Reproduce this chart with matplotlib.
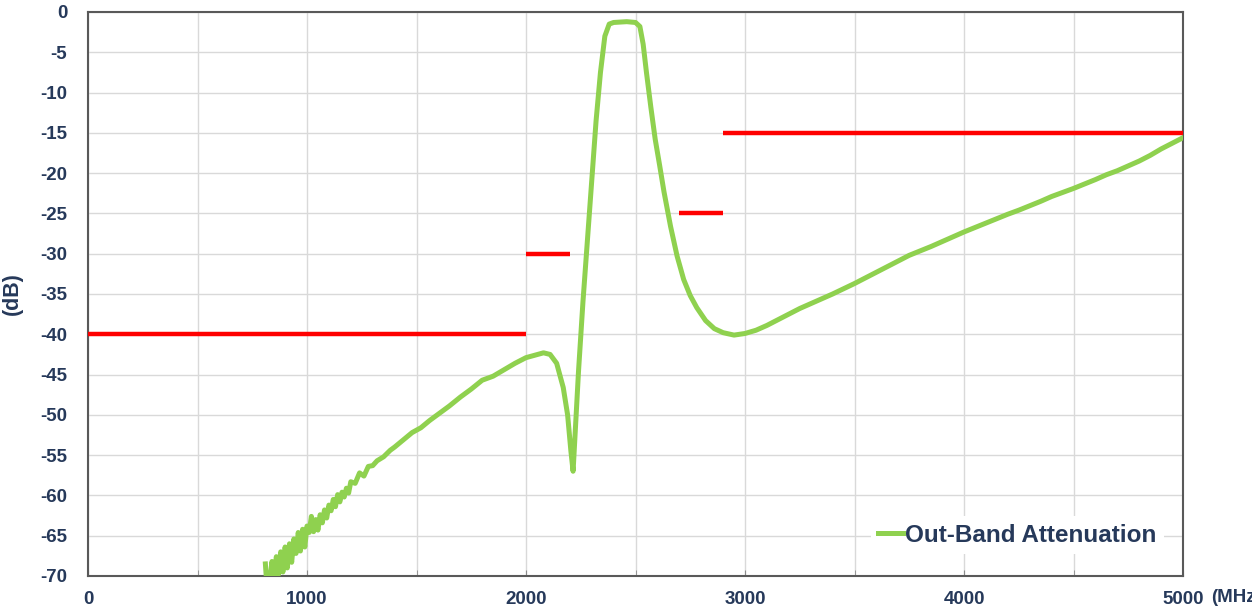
import numpy as np
import matplotlib
matplotlib.use('Agg')
import matplotlib.pyplot as plt

plt.rcParams['font.family'] = ['Liberation Sans', 'DejaVu Sans']
plt.rcParams['axes.unicode_minus'] = False

# measured out-band attenuation (MHz, dB)
freq = [810, 815, 830, 840, 850, 860, 870, 880, 890, 900, 910, 920, 930, 940,
        950, 960, 970, 980, 990, 1000, 1010, 1020, 1030, 1040, 1050, 1060,
        1070, 1080, 1090, 1100, 1110, 1120, 1130, 1140, 1150, 1160, 1170,
        1180, 1190, 1200, 1220, 1240, 1260, 1280, 1300, 1320, 1350, 1380,
        1400, 1440, 1480, 1520, 1560, 1600, 1650, 1700, 1750, 1800, 1850,
        1900, 1950, 2000, 2040, 2080, 2110, 2140, 2170, 2190, 2205, 2215,
        2225, 2240, 2260, 2280, 2300, 2320, 2340, 2360, 2380, 2400, 2460,
        2500, 2520, 2535, 2550, 2570, 2590, 2610, 2630, 2660, 2690, 2720,
        2750, 2780, 2820, 2860, 2900, 2950, 3000, 3050, 3100, 3150, 3200,
        3250, 3300, 3400, 3500, 3600, 3700, 3750, 3850, 3900, 4000, 4100,
        4200, 4250, 4350, 4400, 4500, 4600, 4650, 4700, 4750, 4800, 4850,
        4900, 4950, 5000]
atten = [-68.5, -70.5, -70.5, -68.2, -70.3, -67.6, -69.8, -67.0, -69.5, -66.4,
         -69.0, -66.0, -68.3, -65.4, -67.2, -64.6, -66.9, -64.2, -66.4, -63.8,
         -64.6, -62.6, -64.5, -63.0, -64.3, -62.4, -63.4, -61.8, -62.8, -61.2,
         -61.9, -60.5, -61.4, -59.9, -60.8, -59.6, -60.2, -59.1, -59.7, -58.3,
         -58.5, -57.2, -57.6, -56.4, -56.3, -55.7, -55.2, -54.4, -54.0, -53.1,
         -52.2, -51.6, -50.7, -49.9, -48.9, -47.8, -46.8, -45.7, -45.2, -44.4,
         -43.6, -42.9, -42.6, -42.3, -42.5, -43.6, -46.6, -50.0, -54.5, -57.0,
         -52.0, -44.5, -36.0, -28.5, -21.0, -13.5, -7.5, -3.0, -1.5, -1.3,
         -1.2, -1.3, -1.8, -4.0, -7.5, -11.8, -15.8, -19.0, -22.3, -26.6,
         -30.3, -33.2, -35.2, -36.7, -38.3, -39.3, -39.8, -40.1, -39.9, -39.5,
         -38.9, -38.2, -37.5, -36.8, -36.2, -35.0, -33.7, -32.3, -30.9, -30.2,
         -29.1, -28.5, -27.3, -26.2, -25.1, -24.6, -23.5, -22.9, -21.9, -20.8,
         -20.2, -19.7, -19.1, -18.5, -17.8, -17.0, -16.3, -15.6]

# spec mask segments: (start MHz, stop MHz, limit dB)
mask_start = [0, 2000, 2700, 2900]
mask_stop = [2000, 2200, 2900, 5000]
mask_level = [-40, -30, -25, -15]

x_ticks = [0, 1000, 2000, 3000, 4000, 5000]
y_ticks = list(range(-70, 1, 5))

text_col = '#26395a'
green = '#8fd14f'

fig = plt.figure(figsize=(12.52, 6.08), dpi=100)
ax = fig.add_axes([88/1252, 32/608, 1095/1252, 564/608])

for x0, x1, lv in zip(mask_start, mask_stop, mask_level):
    ax.plot([x0, x1], [lv, lv], color='#ff0000', lw=3.2, solid_capstyle='butt', zorder=3)

ax.plot(freq, atten, color=green, lw=3.6, label='Out-Band Attenuation', zorder=4)

ax.set_xlim(0, 5000)
ax.set_ylim(-70, 0)
ax.set_xticks(x_ticks)
ax.set_xticks(np.arange(0, 5001, 500), minor=True)
ax.set_yticks(y_ticks)
ax.grid(True, which='both', color='#d9d9d9', lw=1)
ax.set_axisbelow(True)
ax.tick_params(axis='x', which='both', direction='in', length=4, color='#8c8c8c', pad=10.5)
ax.tick_params(axis='y', length=0, pad=15)
for lab in ax.get_xticklabels() + ax.get_yticklabels():
    lab.set_fontsize(13.5)
    lab.set_fontweight('bold')
    lab.set_color(text_col)
for s in ax.spines.values():
    s.set_color('#595959')
    s.set_linewidth(1.5)

ax.set_ylabel('(dB)', fontsize=15.5, fontweight='bold', color=text_col)
ax.yaxis.set_label_coords(-(88 - 23)/1095, 0.5)
# unit label sits just right of the last tick and runs off the edge, as in the original
fig.text(1211/1252, (608-598)/608, '(MHz)', fontsize=13.5, fontweight='bold',
         color=text_col, ha='left', va='center')

leg = ax.legend(loc='center left', bbox_to_anchor=((871 - 88)/1095, (576 - 535)/564),
                frameon=True, handlelength=1.0, handletextpad=0.1,
                borderpad=0.3, borderaxespad=0,
                prop={'weight': 'bold', 'size': 17.5})
leg.get_frame().set_edgecolor('none')
leg.get_frame().set_facecolor('white')
leg.get_frame().set_alpha(1)
for t in leg.get_texts():
    t.set_color(text_col)

fig.savefig('out.png', dpi=100)
